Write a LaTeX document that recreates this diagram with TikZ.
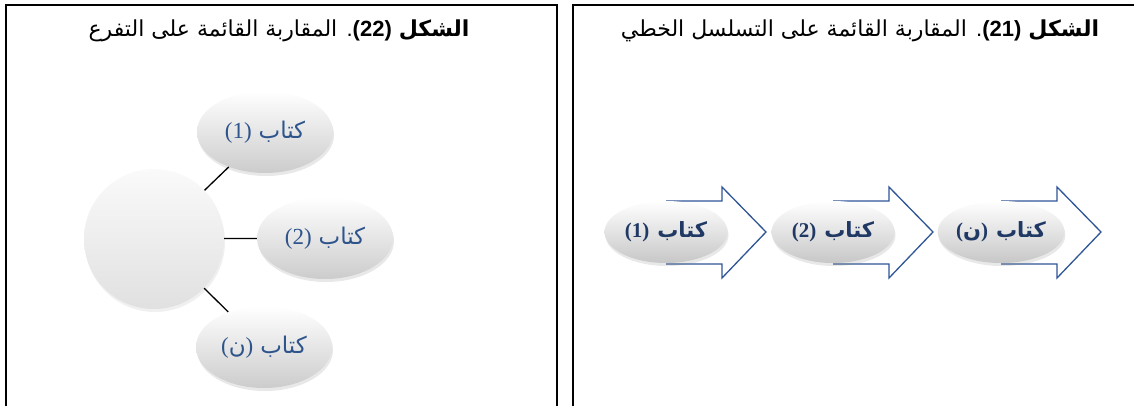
\documentclass[tikz,border=0pt]{standalone}
\usepackage{fontspec}
\usetikzlibrary{shapes.geometric,shadows}
\TeXXeTstate=1
\newfontfamily\arabicfont[Script=Arabic]{DejaVu Sans}
\newfontfamily\latinsans{Liberation Sans}
\newfontfamily\serifmain{Liberation Serif}
\definecolor{arrowblue}{RGB}{47,85,151}
\definecolor{darkbluetext}{RGB}{31,56,100}
\definecolor{lightbluetext}{RGB}{46,84,140}
\tikzset{
  frameline/.style={line width=1.6pt, black},
  booknode/.style={ellipse, minimum width=136pt, minimum height=82pt, inner sep=0pt,
    top color=white, bottom color=black!20, draw=none,
    drop shadow={opacity=0.18, shadow xshift=1pt, shadow yshift=-3pt},
    text=lightbluetext, font=\fontsize{23}{27}\selectfont},
  chainnode/.style={ellipse, minimum width=123pt, minimum height=62pt, inner sep=0pt,
    top color=white, bottom color=black!22, draw=none,
    drop shadow={opacity=0.18, shadow xshift=1pt, shadow yshift=-3pt},
    text=darkbluetext, font=\fontsize{21}{25}\selectfont\bfseries},
  hubnode/.style={circle, minimum size=140pt, inner sep=0pt,
    top color=black!2, bottom color=black!12, draw=none,
    drop shadow={opacity=0.12, shadow xshift=1pt, shadow yshift=-3pt}},
  blockarrow/.style={draw=arrowblue, line width=1.3pt, fill=white, line join=miter},
  linkline/.style={line width=1.3pt, black},
  titletext/.style={font=\fontsize{22}{26}\selectfont\arabicfont, anchor=center},
}
\begin{document}
\begin{tikzpicture}[x=1pt,y=-1pt]
\useasboundingbox (0,0) rectangle (1134,405);
% frames
\coordinate (lbl) at (6,406);
\coordinate (ltl) at (6,5);
\coordinate (ltr) at (557,5);
\coordinate (lbr) at (557,406);
\draw[frameline] (lbl) -- (ltl) -- (ltr) -- (lbr);
\coordinate (rbl) at (573,406);
\coordinate (rtl) at (573,5);
\coordinate (rtr) at (1135,5);
\draw[frameline] (rbl) -- (rtl) -- (rtr);

% titles
\node[titletext] (t22) at (279,31) {\beginR{\bfseries الشكل} {\latinsans\bfseries(22)}{\latinsans.} المقاربة القائمة على التفرع\endR};
\node[titletext] (t21) at (860,31) {\beginR{\bfseries الشكل} {\latinsans\bfseries(21)}{\latinsans.} المقاربة القائمة على التسلسل الخطي\endR};

% left: branching
\node[hubnode] (hub) at (154,239) {};
\node[booknode] (b1) at (265,132) {\beginR{\arabicfont كتاب} {\serifmain(1)}\endR};
\node[booknode] (b2) at (325,238) {\beginR{\arabicfont كتاب} {\serifmain(2)}\endR};
\node[booknode] (b3) at (264,347) {\beginR{\arabicfont كتاب} \beginL{\serifmain(}{\arabicfont ن}{\serifmain)}\endL\endR};
\draw[linkline] (hub) -- (b1);
\draw[linkline] (hub) -- (b2);
\draw[linkline] (hub) -- (b3);

% right: linear chain
\begin{scope}
\clip (573,0) rectangle (1120,405);
\foreach \cx in {666,833,1001}{
  \draw[blockarrow] (\cx,201) -- ++(56,0) -- ++(0,-14) -- ++(44,45) -- ++(-44,46) -- ++(0,-14) -- ++(-56,0);
}
\end{scope}
\node[chainnode] (c1) at (666,232) {\beginR{\arabicfont\bfseries كتاب} {\serifmain\bfseries(1)}\endR};
\node[chainnode] (c2) at (833,232) {\beginR{\arabicfont\bfseries كتاب} {\serifmain\bfseries(2)}\endR};
\node[chainnode] (c3) at (1001,232) {\beginR{\arabicfont\bfseries كتاب} \beginL{\serifmain\bfseries(}{\arabicfont\bfseries ن}{\serifmain\bfseries)}\endL\endR};
\end{tikzpicture}
\end{document}
